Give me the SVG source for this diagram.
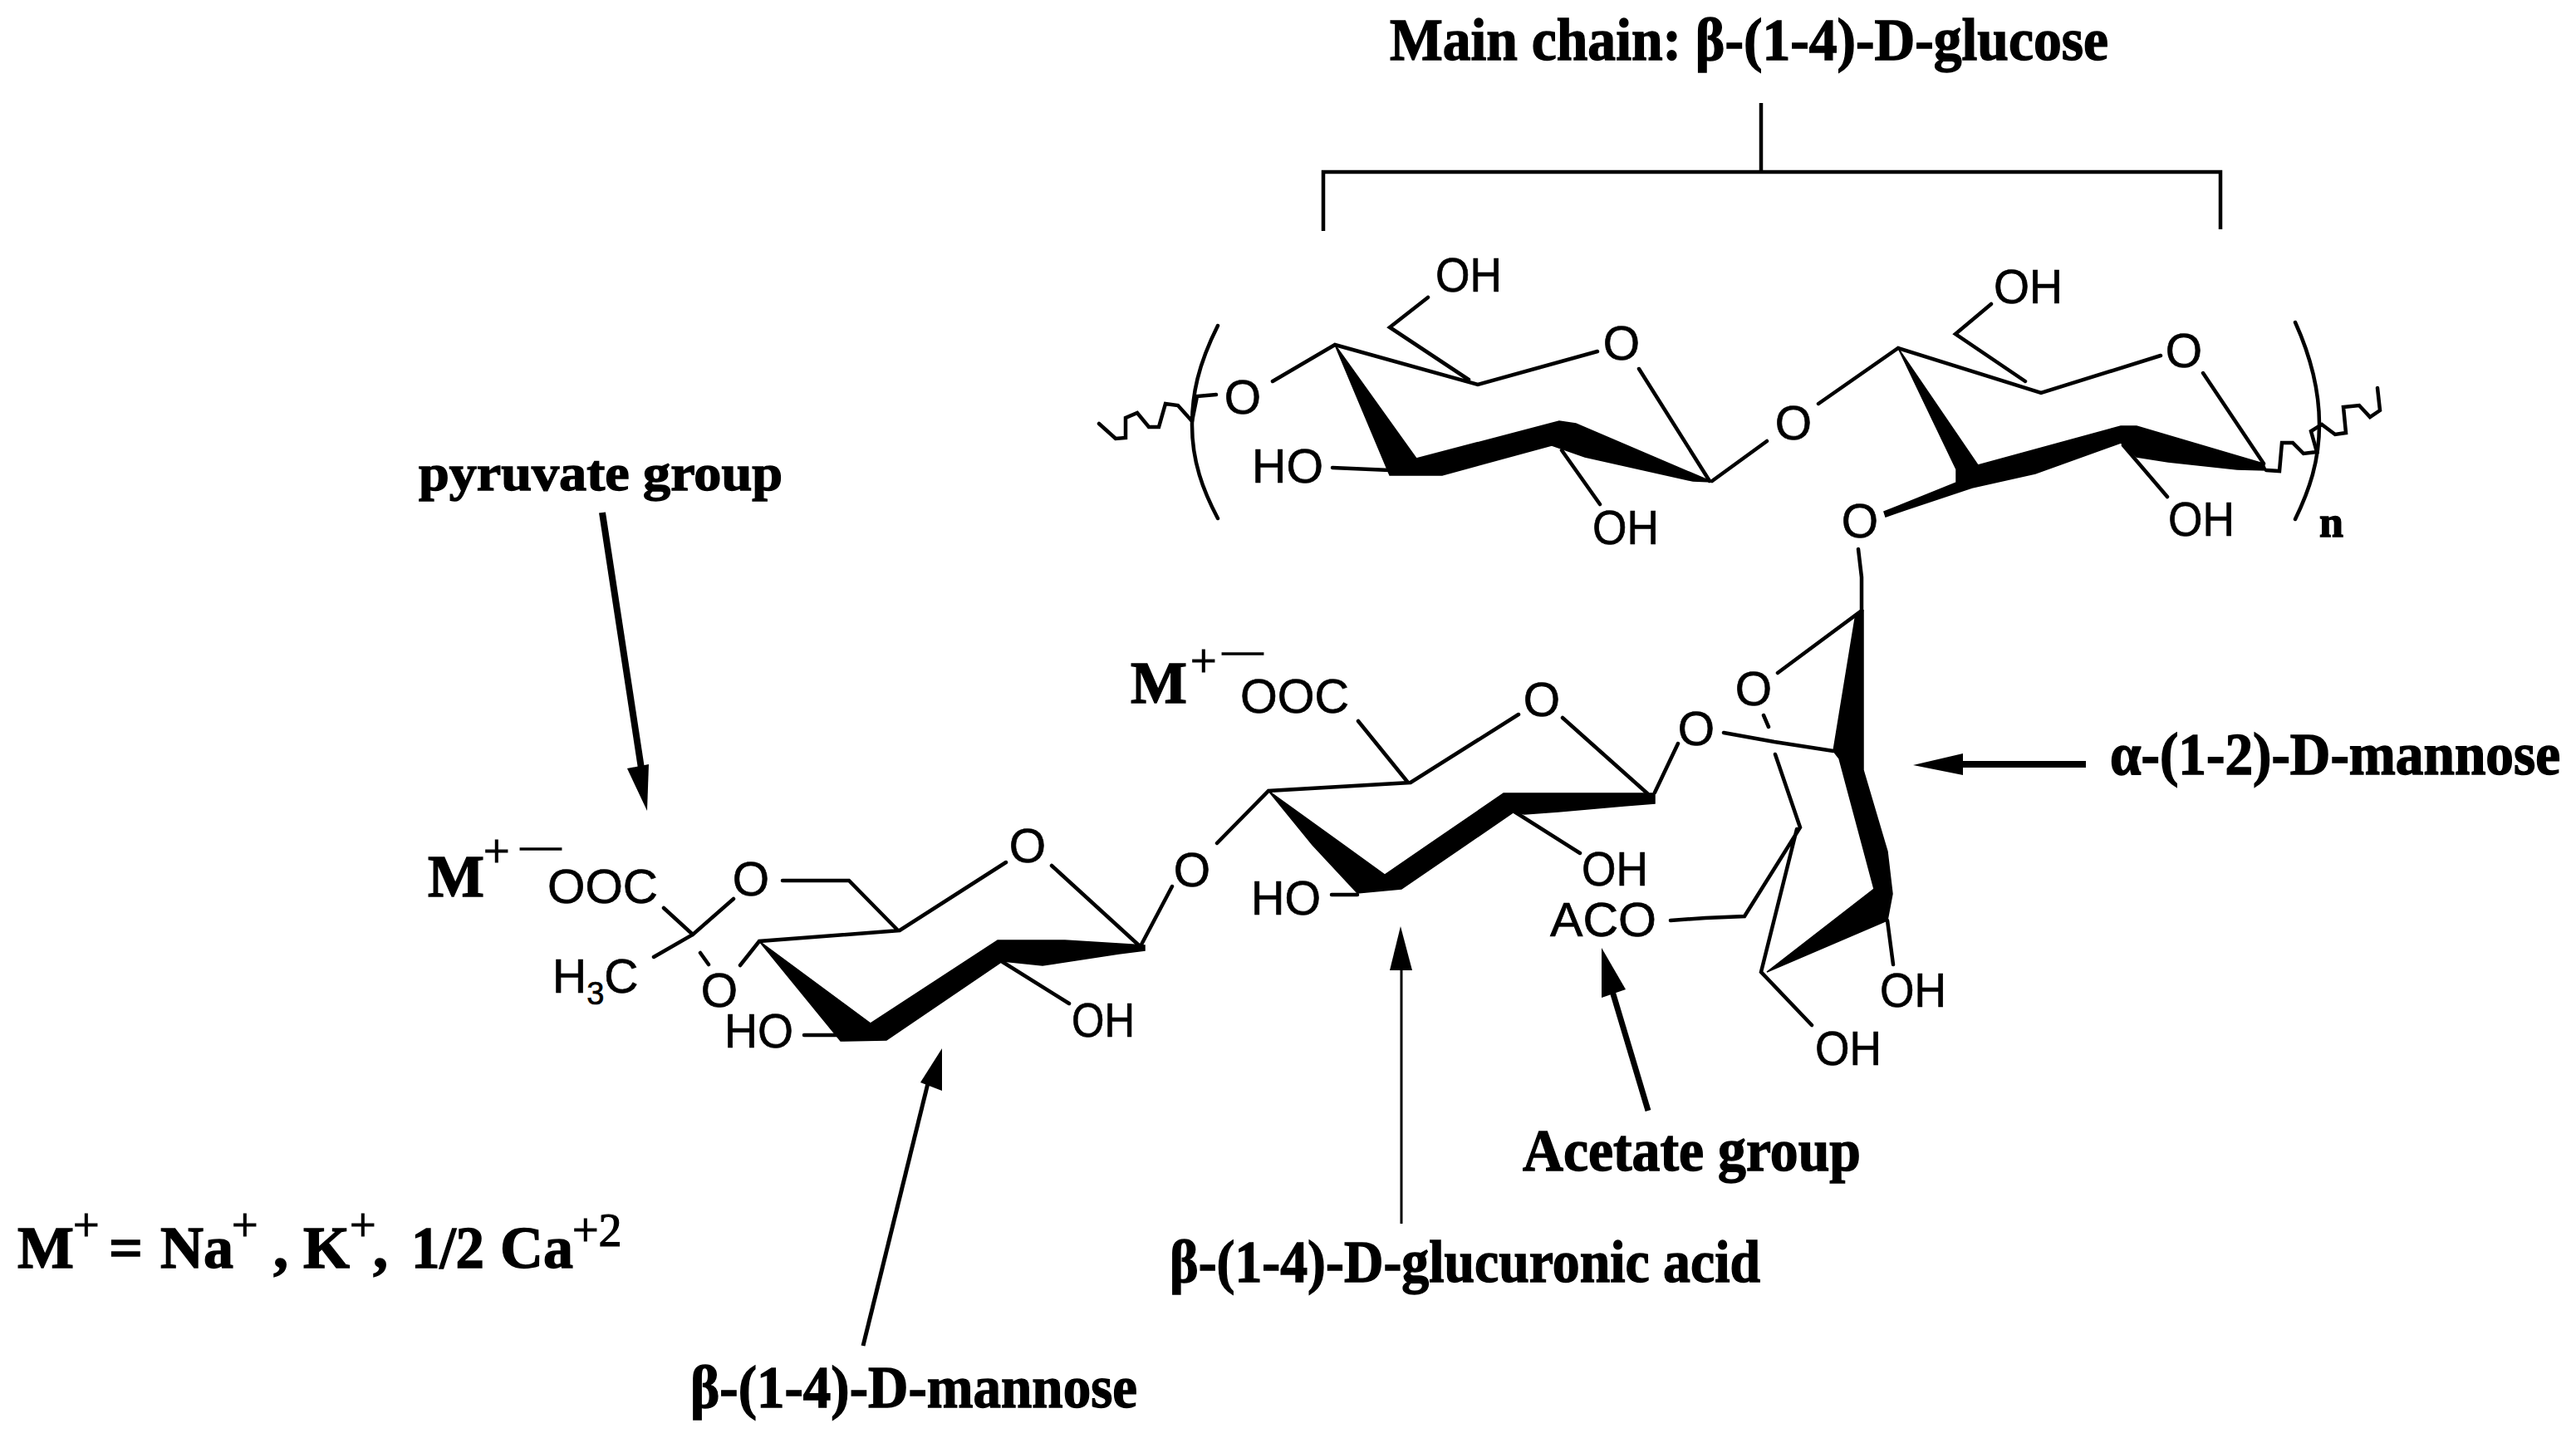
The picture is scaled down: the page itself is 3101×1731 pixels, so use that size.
<svg xmlns="http://www.w3.org/2000/svg" width="3101" height="1731" viewBox="0 0 3101 1731">
<style>
.b{fill:none;stroke:#000;stroke-width:4.5;stroke-linejoin:miter;stroke-linecap:round}
.w{fill:#000;stroke:#000;stroke-width:1.5;stroke-linejoin:miter}
.a{font-family:"Liberation Sans",Arial,sans-serif;font-size:57px;fill:#000;stroke:#000;stroke-width:.7}
.o{font-family:"Liberation Sans",Arial,sans-serif;font-size:57px;fill:#000;stroke:#000;stroke-width:.7;text-anchor:middle}
.l{font-family:"Liberation Serif","Times New Roman",serif;font-size:72px;font-weight:bold;fill:#000;stroke:#000;stroke-width:1.4}
.s{font-family:"Liberation Serif","Times New Roman",serif;font-size:56px;fill:#000;stroke:#000;stroke-width:1.2}
.m{font-family:"Liberation Serif","Times New Roman",serif;font-size:40px;fill:#000;stroke:#000;stroke-width:1.6}
.c{fill:none;stroke:#000;stroke-linecap:butt}
</style>
<rect width="3101" height="1731" fill="#fff"/>

<g id="labels">
<text class="l" x="1673" y="72" textLength="865" lengthAdjust="spacingAndGlyphs">Main chain: β-(1-4)-D-glucose</text>
<text class="l" x="504" y="590" textLength="438" lengthAdjust="spacingAndGlyphs" style="font-size:62px">pyruvate group</text>
<text class="l" transform="translate(2540 932) scale(1 1.09)" textLength="542" lengthAdjust="spacingAndGlyphs" style="font-size:66px">α-(1-2)-D-mannose</text>
<text class="l" x="1833" y="1409" textLength="407" lengthAdjust="spacingAndGlyphs">Acetate group</text>
<text class="l" x="1408" y="1543" textLength="711" lengthAdjust="spacingAndGlyphs">β-(1-4)-D-glucuronic acid</text>
<text class="l" x="831" y="1694" textLength="538" lengthAdjust="spacingAndGlyphs">β-(1-4)-D-mannose</text>
</g>

<g id="counterion-legend">
<text class="l" x="21" y="1526">M</text><text class="s" x="88" y="1494">+</text>
<text class="l" x="131" y="1526">=</text>
<text class="l" x="193" y="1526">Na</text><text class="s" x="279" y="1494">+</text>
<text class="l" x="329" y="1526">,</text>
<text class="l" x="365" y="1526">K</text><text class="s" x="421" y="1494">+</text>
<text class="l" x="449" y="1526">,</text>
<text class="l" x="495" y="1526" textLength="88" lengthAdjust="spacingAndGlyphs">1/2</text>
<text class="l" x="602" y="1526">Ca</text><text class="s" x="689" y="1500">+2</text>
</g>

<g id="connectors">
<path class="c" stroke-width="4.5" d="M1593 278V207H2673V276M2120 124V205"/>
<path class="c" stroke-width="8" d="M725 617L772 925"/>
<polygon points="779,976 755,925 781,920"/>
<path class="c" stroke-width="8" d="M2511 920H2350"/>
<polygon points="2303,921 2363,907 2363,933"/>
<path class="c" stroke-width="7" d="M1984 1337L1940 1190"/>
<polygon points="1928,1141 1928,1201 1957,1191"/>
<path class="c" stroke-width="5" d="M1039 1620L1118 1300"/>
<polygon points="1134,1262 1108,1303 1134,1313"/>
<path class="c" stroke-width="3" d="M1687 1473V1150"/>
<polygon points="1686,1115 1673,1168 1700,1168"/>
</g>

<g id="main-chain-unit-1">
<path class="b" d="M1323 510L1343 528L1355 527L1355 503L1369 497L1383 514L1395 514L1403 486L1418 488L1435 507L1441 477L1464 475"/>
<path class="b" d="M1466 392C1442 440 1435 475 1435 512C1435 555 1448 590 1466 624"/>
<path class="b" d="M1532 459L1607 415L1779 463L1923 423M1973 444L2058 579M1719 358L1673 394L1768 457M1604 563L1673 566M1880 542L1926 607M2061 579L2127 531"/>
<polygon class="w" points="1607,415 1705,552 1877,507 1897,510 2061,580 2038,579 1908,550 1868,536 1736,572 1673,572"/>
<text class="o" x="1496" y="498">O</text>
<text class="o" x="1952" y="433">O</text>
<text class="o" x="2159" y="529">O</text>
<text class="a" x="1728" y="351" textLength="80" lengthAdjust="spacingAndGlyphs">OH</text>
<text class="a" x="1507" y="581" textLength="86" lengthAdjust="spacingAndGlyphs">HO</text>
<text class="a" x="1917" y="655" textLength="80" lengthAdjust="spacingAndGlyphs">OH</text>
</g>

<g id="main-chain-unit-2">
<path class="b" d="M2189 486L2285 419L2457 473L2601 428M2652 449L2725 558M2397 366L2354 402L2438 459M2556 536L2609 598"/>
<polygon class="w" points="2285,419 2381,560 2553,513 2572,513 2725,558 2728,566 2693,565 2610,556 2572,550 2553,533 2450,570 2374,587 2293,614 2270,622 2268,616 2355,581 2355,565"/>
<path class="b" d="M2728 566L2744 567L2747 533L2760 533L2773 546L2789 544L2782 519L2795 511L2811 523L2824 521L2821 490L2840 488L2853 502L2865 494L2862 467"/>
<path class="b" d="M2763 388C2782 430 2792 470 2792 511C2792 555 2780 590 2763 625"/>
<text class="o" x="2629" y="442">O</text>
<text class="o" x="2239" y="647">O</text>
<text class="a" x="2400" y="365" textLength="83" lengthAdjust="spacingAndGlyphs">OH</text>
<text class="a" x="2610" y="645" textLength="80" lengthAdjust="spacingAndGlyphs">OH</text>
<text class="l" x="2792" y="646" style="font-size:52px">n</text>
</g>

<g id="mannose-side">
<path class="b" d="M2237 661L2241 695L2241 735L2140 810M2123 861L2129 875M2075 882L2136 893L2207 904M2137 908L2167 996L2100 1103L2053 1105L2011 1108M2163 998L2120 1170L2181 1234M2272 1108L2279 1161M2020 895L1992 954"/>
<polygon class="w" points="2243,735 2234,739 2207,904 2214,913 2256,1070 2127,1170 2272,1108 2278,1076 2272,1025 2243,927"/>
<text class="o" x="2111" y="849">O</text>
<text class="o" x="2042" y="897">O</text>
<text class="a" x="2263" y="1212" textLength="80" lengthAdjust="spacingAndGlyphs">OH</text>
<text class="a" x="2185" y="1282" textLength="80" lengthAdjust="spacingAndGlyphs">OH</text>
<text class="a" x="1866" y="1127" textLength="128" lengthAdjust="spacingAndGlyphs">ACO</text>
</g>

<g id="glucuronic-unit">
<path class="b" d="M1465 1015L1527 952L1698 942L1828 860M1881 864L1983 955M1635 868L1695 942M1603 1077H1634M1823 977L1902 1027M1411 1067L1374 1137"/>
<polygon class="w" points="1527,952 1667,1053 1810,955 1992,955 1992,967 1955,970 1876,977 1835,980 1823,977 1687,1070 1634,1075 1580,1017"/>
<text class="l" x="1361" y="846">M</text><text class="s" x="1433" y="815">+</text><text class="m" transform="translate(1473 796) scale(2.3 1)">–</text>
<text class="a" x="1493" y="858" textLength="131" lengthAdjust="spacingAndGlyphs">OOC</text>
<text class="o" x="1856" y="862">O</text>
<text class="o" x="1435" y="1067">O</text>
<text class="a" x="1506" y="1101" textLength="84" lengthAdjust="spacingAndGlyphs">HO</text>
<text class="a" x="1904" y="1066" textLength="80" lengthAdjust="spacingAndGlyphs">OH</text>
</g>

<g id="pyruvated-mannose-unit">
<path class="b" d="M942 1060H1022L1081 1120M799 1093L834 1125M883 1082L834 1125L787 1152M843 1147L853 1161M891 1162L914 1133L1083 1120L1211 1038M1266 1042L1370 1137M968 1246H1012M1207 1158L1287 1208"/>
<polygon class="w" points="914,1133 1048,1232 1201,1132 1282,1132 1378,1138 1378,1144 1347,1148 1255,1162 1207,1157 1067,1252 1012,1253"/>
<text class="l" x="515" y="1079">M</text><text class="s" x="582" y="1044">+</text><text class="m" transform="translate(628 1031) scale(2.3 1)">–</text>
<text class="a" x="659" y="1087" textLength="133" lengthAdjust="spacingAndGlyphs">OOC</text>
<text class="a" x="665" y="1195">H<tspan font-size="38" dy="14">3</tspan><tspan dy="-14">C</tspan></text>
<text class="o" x="904" y="1078">O</text>
<text class="o" x="866" y="1212">O</text>
<text class="o" x="1237" y="1038">O</text>
<text class="a" x="872" y="1261" textLength="83" lengthAdjust="spacingAndGlyphs">HO</text>
<text class="a" x="1290" y="1248" textLength="76" lengthAdjust="spacingAndGlyphs">OH</text>
</g>
</svg>
